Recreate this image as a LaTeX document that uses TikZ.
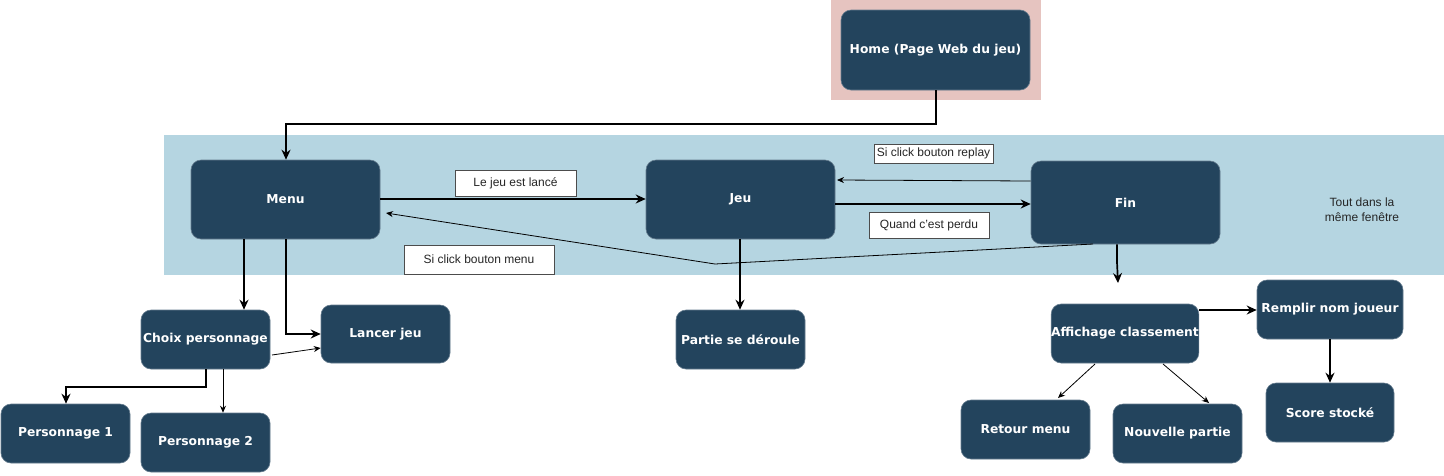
\documentclass[tikz,border=0pt]{standalone}
\usepackage{fontspec}
\setmainfont{Liberation Sans}
\newfontfamily\boxfont{DejaVu Sans}
\usetikzlibrary{arrows.meta}
\definecolor{boxblue}{HTML}{23445D}
\definecolor{bandblue}{HTML}{B5D5E1}
\definecolor{pinkbg}{HTML}{E6C4C0}
\tikzset{
  stepbox/.style={fill=boxblue, draw=boxblue!70!white, line width=0.6pt, rounded corners=10pt, text=white,
    font=\boxfont\bfseries\fontsize{12.3}{14}\selectfont, inner sep=0pt, align=center},
  lab/.style={fill=white, draw=black!70, line width=0.8pt, font=\fontsize{12}{14}\selectfont, inner sep=0pt, text=black!85},
  thick arr/.style={draw=black, line width=1.7pt, -{Stealth[length=10pt,width=9pt]}},
  thin arr/.style={draw=black, line width=0.8pt, -{Stealth[length=7pt,width=6pt]}},
}
\begin{document}
\begin{tikzpicture}[x=1pt,y=-1pt]
\useasboundingbox (0,0) rectangle (1444,475);
\fill[white] (0,0) rectangle (1444,475);
% backgrounds
\fill[pinkbg] (831,0) rectangle (1041,100);
\fill[bandblue] (164,135) rectangle (1444,275);

% nodes
\node[stepbox, minimum width=189pt, minimum height=80pt] (home) at (935.5,50) {Home (Page Web du jeu)};
\node[stepbox, minimum width=189pt, minimum height=79pt] (menu) at (285.5,199.5) {Menu};
\node[stepbox, minimum width=189pt, minimum height=79pt] (jeu) at (740.5,199.5) {Jeu};
\node[stepbox, minimum width=189pt, minimum height=83pt] (fin) at (1125.5,202.5) {Fin};
\node[font=\fontsize{12}{15}\selectfont, align=center, text=black!85] (tout) at (1362,210) {Tout dans la\\même fenêtre};

\node[stepbox, minimum width=129pt, minimum height=59pt] (choix) at (205.5,339.5) {Choix personnage};
\node[stepbox, minimum width=129pt, minimum height=58pt] (lancer) at (385.5,334) {Lancer jeu};
\node[stepbox, minimum width=129pt, minimum height=59pt] (p1) at (65.5,433.5) {Personnage 1};
\node[stepbox, minimum width=129pt, minimum height=59pt] (p2) at (205.5,442.5) {Personnage 2};
\node[stepbox, minimum width=129pt, minimum height=59pt] (partie) at (740.5,339.5) {Partie se déroule};
\node[stepbox, minimum width=146pt, minimum height=59pt] (affich) at (1125,333.5) {Affichage classement};
\node[stepbox, minimum width=146pt, minimum height=59pt] (remplir) at (1330,309.5) {Remplir nom joueur};
\node[stepbox, minimum width=129pt, minimum height=59pt] (retour) at (1025.5,429.5) {Retour menu};
\node[stepbox, minimum width=129pt, minimum height=59pt] (nouvelle) at (1177.5,433.5) {Nouvelle partie};
\node[stepbox, minimum width=128pt, minimum height=59pt] (score) at (1330,412.5) {Score stocké};

% connectors
\draw[thick arr] (home.south -| 936,0) |- (286,124) -- (menu.north -| 286,0);
\draw[thick arr] (menu.east |- 0,199) -- (jeu.west |- 0,199);
\draw[thick arr] (jeu.east |- 0,204) -- (fin.west |- 0,204);
\draw[thin arr] (fin.west |- 0,181) -- (837,180);
\coordinate (bend) at (715,264);
\draw[thin arr] (1093,244) -- (bend) -- (386,213);
\coordinate (finend) at (1118,283);
\draw[thick arr] (fin.south -| 1117,0) -- (1117,262) -- (finend);
\draw[thick arr] (menu.south -| 244,0) -- (choix.north -| 244,0);
\draw[thick arr] (menu.south -| 286,0) |- (lancer.west |- 0,334);
\draw[thin arr] (272,355) -- (lancer.west |- 0,348);
\draw[thick arr] (choix.south -| 206,0) -- (206,387) -| (p1.north -| 66,0);
\draw[thin arr] (choix.south -| 223,0) -- (p2.north -| 223,0);
\draw[thick arr] (jeu.south -| 740,0) -- (partie.north -| 740,0);
\draw[thick arr] (affich.east |- 0,310) -- (remplir.west |- 0,310);
\draw[thin arr] (1095,364) -- (1058,398);
\draw[thin arr] (1163,364) -- (1209,403);
\draw[thick arr] (remplir.south -| 1330,0) -- (score.north -| 1330,0);

% labels
\node[lab, minimum width=121pt, minimum height=26pt] (l1) at (515.5,183) {Le jeu est lancé};
\node[lab, minimum width=150pt, minimum height=29pt] (l2) at (479,259.5) {Si click bouton menu};
\node[lab, minimum width=119pt, minimum height=19pt] (l3) at (933.5,153.5) {Si click bouton replay};
\node[lab, minimum width=120pt, minimum height=26pt] (l4) at (929,225) {Quand c'est perdu};
\end{tikzpicture}
\end{document}
